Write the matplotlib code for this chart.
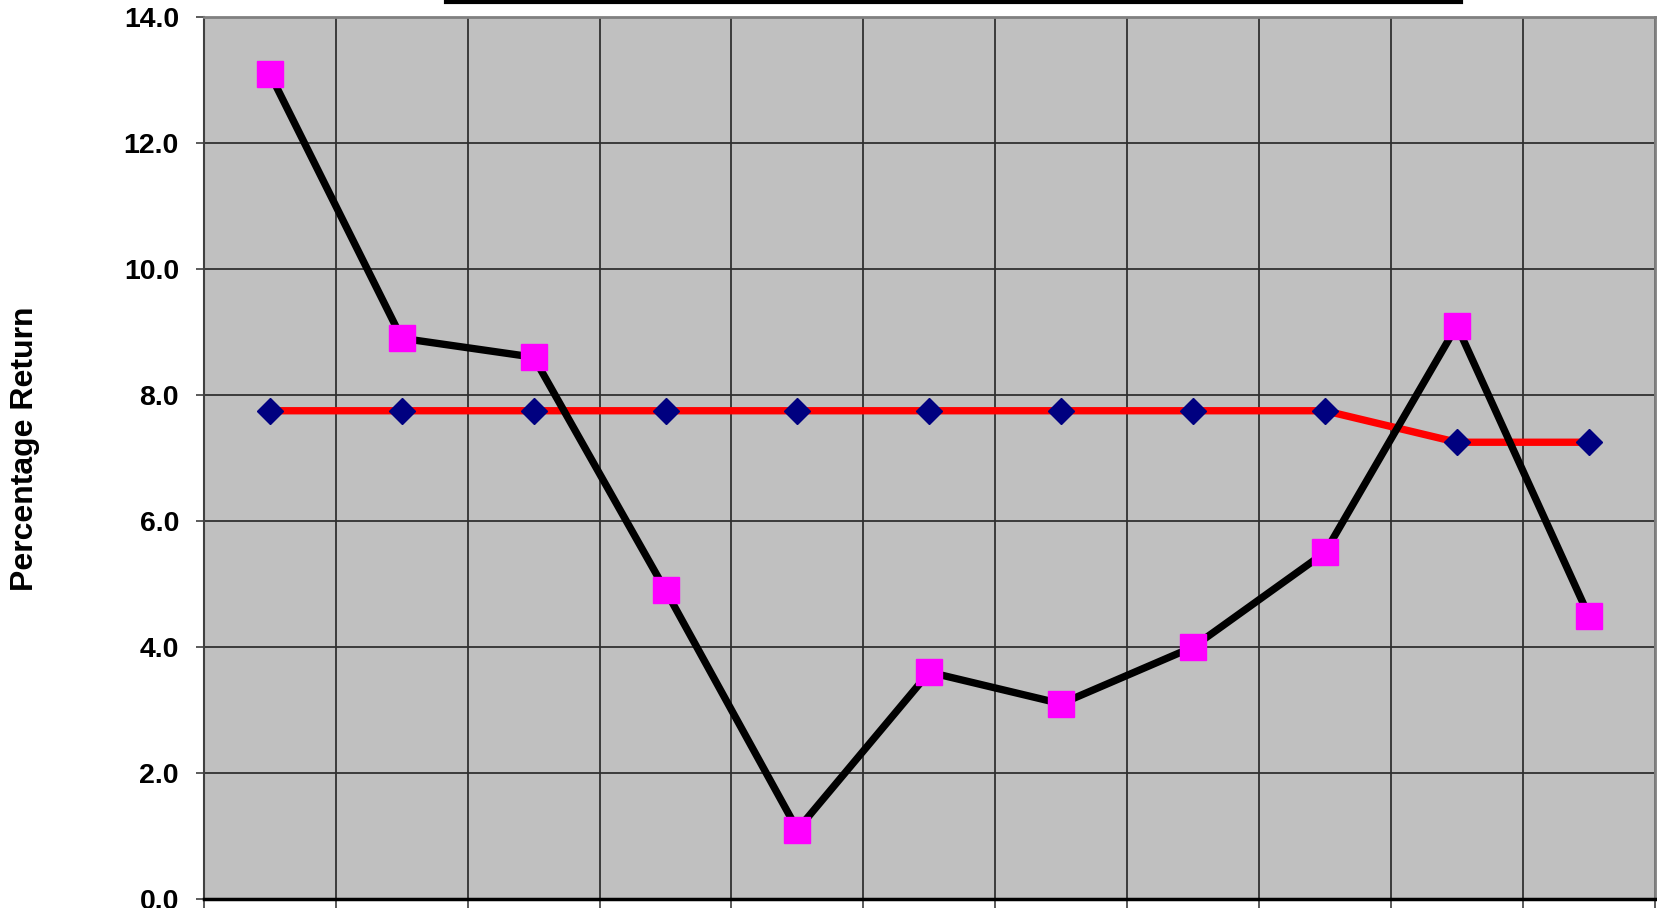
import matplotlib.pyplot as plt
import numpy as np
from matplotlib.lines import Line2D

# yearly percentage returns, one point per period
periods = np.arange(11)
actual_return = [13.1, 8.9, 8.6, 4.9, 1.1, 3.6, 3.1, 4.0, 5.5, 9.1, 4.5]
assumed_return = [7.75, 7.75, 7.75, 7.75, 7.75, 7.75, 7.75, 7.75, 7.75, 7.25, 7.25]
yticks = [0, 2, 4, 6, 8, 10, 12, 14]

plt.rcParams['font.family'] = ['Liberation Sans', 'DejaVu Sans']

fig = plt.figure(figsize=(16.58, 9.08), dpi=100)
ax = fig.add_axes([0.123, 0.0099, 0.875, 0.9714])
ax.set_facecolor('#C0C0C0')

# assumed rate (red line, navy diamonds)
ax.plot(periods, assumed_return, color='#FF0000', linewidth=5.3, zorder=3)
ax.plot(periods, assumed_return, linestyle='none', marker='D', markersize=13.2,
        markerfacecolor='#000080', markeredgecolor='#000080', zorder=5)

# actual return (black line, magenta squares)
ax.plot(periods, actual_return, color='black', linewidth=5.3, zorder=4)
ax.plot(periods, actual_return, linestyle='none', marker='s', markersize=18.5,
        markerfacecolor='#FF00FF', markeredgecolor='#FF00FF', zorder=6)

ax.set_xlim(-0.5, 10.5)
ax.set_ylim(0, 14)
ax.set_yticks(yticks)
ax.set_yticklabels(['%.1f' % v for v in yticks], fontsize=20.5, fontweight='bold')

# category boundaries carry the vertical grid and the tick marks
ax.set_xticks(np.arange(-0.5, 11, 1))
ax.set_xticklabels([])
ax.grid(True, color='#303030', linewidth=1.3, zorder=1)
ax.set_axisbelow(True)
ax.tick_params(axis='x', direction='out', length=12, width=1.2, color='#404040')
ax.tick_params(axis='y', direction='out', length=6, width=1.2, color='#404040', pad=12)

for side in ['top', 'right']:
    ax.spines[side].set_color('#808080')
    ax.spines[side].set_linewidth(2)
ax.spines['left'].set_color('#404040')
ax.spines['left'].set_linewidth(1.5)
ax.spines['bottom'].set_color('black')
ax.spines['bottom'].set_linewidth(2.5)

fig.text(0.015, 0.5055, 'Percentage Return', rotation=90, fontsize=23,
         fontweight='bold', ha='center', va='center')

# title underline
fig.add_artist(Line2D([446 / 1658, 1461 / 1658], [1 - 2 / 908, 1 - 2 / 908],
                      color='black', linewidth=3, transform=fig.transFigure))

fig.savefig('out.png', dpi=100)
